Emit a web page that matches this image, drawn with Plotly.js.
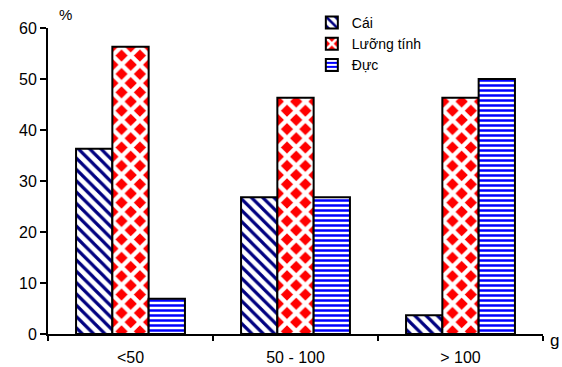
<!DOCTYPE html>
<html>
<head>
<meta charset="utf-8">
<script src="https://cdn.plot.ly/plotly-3.0.1.min.js"></script>
<style>html,body{margin:0;padding:0;background:#fff;}#chart{width:562px;height:367px;}</style>
</head>
<body>
<div id="chart"></div>
<script>
const categories = ["<50", "50 - 100", "> 100"];
const cai = [36.3, 26.8, 3.7];
const luongTinh = [56.3, 46.3, 46.3];
const duc = [6.9, 26.8, 50.0];
const seriesNames = ["Cái", "Lưỡng tính", "Đực"];

const outline = {color: "#000", width: 2};
const traces = [
  {
    type: "bar", name: seriesNames[0], x: categories, y: cai,
    marker: {color: "#fff", line: outline,
      pattern: {shape: "\\", fgcolor: "#000080", bgcolor: "#fff", size: 8, solidity: 0.4}}
  },
  {
    type: "bar", name: seriesNames[1], x: categories, y: luongTinh,
    marker: {color: "#ff0000", line: outline,
      pattern: {shape: "x", fgcolor: "#fff", bgcolor: "#ff0000", size: 13, solidity: 0.55, fillmode: "replace"}}
  },
  {
    type: "bar", name: seriesNames[2], x: categories, y: duc,
    marker: {color: "#fff", line: outline,
      pattern: {shape: "-", fgcolor: "#0000ff", bgcolor: "#fff", size: 5, solidity: 0.5}}
  }
];

const layout = {
  width: 562, height: 367,
  margin: {l: 48, r: 19, t: 28, b: 33, autoexpand: false},
  paper_bgcolor: "#fff", plot_bgcolor: "#fff",
  font: {family: "Liberation Sans, Arial, sans-serif", size: 14, color: "#000"},
  barmode: "group", bargap: 0.34, bargroupgap: 0,
  showlegend: true,
  legend: {x: 0.533, y: 1.069, xanchor: "left", yanchor: "top",
    font: {size: 14}, bgcolor: "rgba(0,0,0,0)", tracegroupgap: 0, itemwidth: 30},
  xaxis: {
    type: "category", showline: true, linecolor: "#000", linewidth: 2,
    ticks: "outside", tickson: "boundaries", ticklen: 5, tickwidth: 2, tickcolor: "#000",
    showgrid: false, zeroline: false, ticklabelstandoff: 8, automargin: false,
    tickfont: {size: 16}
  },
  yaxis: {
    range: [0, 60], dtick: 10, showline: true, linecolor: "#000", linewidth: 2,
    ticks: "outside", ticklen: 6, tickwidth: 2, tickcolor: "#000", automargin: false,
    showgrid: false, zeroline: false, tickfont: {size: 16}
  },
  annotations: [
    {text: "%", xref: "paper", yref: "paper", x: 0.035, y: 1.045, xanchor: "center", yanchor: "middle",
      showarrow: false, font: {size: 15}},
    {text: "g", xref: "paper", yref: "paper", x: 1.01, y: -0.02, xanchor: "left", yanchor: "middle",
      showarrow: false, font: {size: 17}}
  ]
};

Plotly.newPlot("chart", traces, layout, {displayModeBar: false, staticPlot: true});
</script>
</body>
</html>
